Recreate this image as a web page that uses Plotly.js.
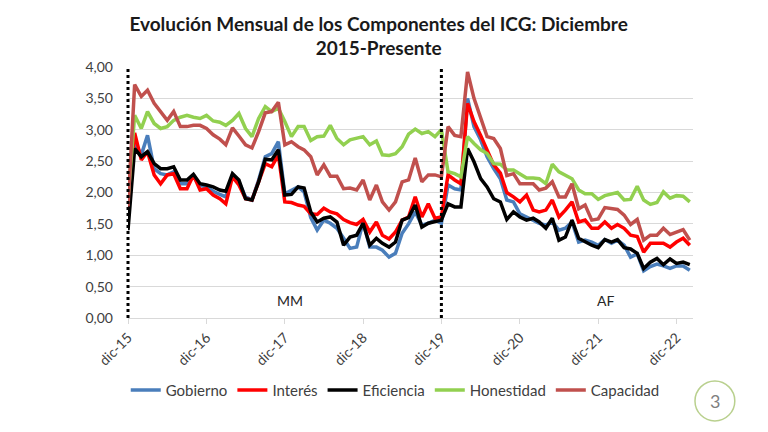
<!DOCTYPE html>
<html><head><meta charset="utf-8">
<script src="https://cdn.plot.ly/plotly-3.0.1.min.js"></script>
<style>html,body{margin:0;padding:0;background:#fff}#chart{width:768px;height:432px}</style>
</head><body><div id="chart"></div>
<script>
// Monthly categories: Dec-2015 .. Feb-2023 (87 months)
const firstYear = 2015, firstMonth = 12, monthCount = 87;
const months = [];
for (let k = 0; k < monthCount; k++) {
  const m0 = firstMonth - 1 + k;
  const y = firstYear + Math.floor(m0 / 12);
  const m = (m0 % 12) + 1;
  months.push(y + '-' + String(m).padStart(2, '0') + '-01');
}
const tickDates = ['2015-12-01','2016-12-01','2017-12-01','2018-12-01','2019-12-01','2020-12-01','2021-12-01','2022-12-01'];
const tickLabels = ['dic-15','dic-16','dic-17','dic-18','dic-19','dic-20','dic-21','dic-22'];
const yTicks = [0,0.5,1,1.5,2,2.5,3,3.5,4];

const gobierno = [1.80,2.80,2.60,2.91,2.38,2.30,2.28,2.33,2.14,2.14,2.25,2.11,2.09,2.02,1.97,1.93,2.28,2.17,1.93,1.88,2.20,2.57,2.62,2.81,1.98,2.04,2.09,2.01,1.60,1.40,1.56,1.51,1.43,1.27,1.11,1.13,1.53,1.13,1.13,1.08,0.97,1.03,1.35,1.50,1.69,1.48,1.51,1.56,1.51,2.12,2.06,2.04,3.50,3.05,2.84,2.57,2.38,2.22,1.88,1.85,1.66,1.61,1.56,1.51,1.48,1.53,1.40,1.43,1.53,1.21,1.24,1.21,1.16,1.25,1.19,1.24,1.16,0.97,1.02,0.75,0.82,0.86,0.83,0.79,0.83,0.83,0.76];
const interes = [1.75,2.95,2.52,2.65,2.28,2.14,2.28,2.30,2.06,2.06,2.28,2.04,2.06,1.96,1.90,1.82,2.25,2.12,1.90,1.88,2.17,2.46,2.41,2.60,1.85,1.84,1.80,1.78,1.66,1.65,1.75,1.69,1.66,1.57,1.52,1.49,1.57,1.37,1.53,1.32,1.26,1.37,1.56,1.61,1.93,1.61,1.82,1.59,1.61,2.28,2.20,2.14,3.42,3.13,2.91,2.68,2.44,2.31,2.00,1.93,1.85,1.96,1.72,1.69,1.72,1.88,1.61,1.72,1.85,1.53,1.56,1.43,1.43,1.53,1.43,1.49,1.43,1.32,1.30,1.05,1.19,1.19,1.19,1.13,1.21,1.27,1.16];
const eficiencia = [1.40,2.70,2.57,2.65,2.46,2.38,2.38,2.41,2.20,2.20,2.29,2.14,2.12,2.09,2.04,2.02,2.30,2.20,1.90,1.88,2.17,2.53,2.52,2.68,1.96,1.97,2.09,2.07,1.69,1.53,1.59,1.61,1.53,1.16,1.29,1.32,1.51,1.16,1.27,1.19,1.13,1.21,1.56,1.60,1.80,1.45,1.51,1.53,1.56,1.82,1.77,1.77,2.70,2.49,2.22,2.09,1.90,1.85,1.57,1.69,1.61,1.56,1.59,1.53,1.43,1.59,1.24,1.29,1.56,1.27,1.21,1.16,1.12,1.25,1.21,1.25,1.12,1.10,1.03,0.79,0.89,0.95,0.85,0.94,0.87,0.89,0.85];
const honestidad = [1.90,3.23,3.02,3.29,3.10,3.02,3.05,3.15,3.20,3.23,3.20,3.18,3.23,3.14,3.12,3.07,3.15,3.26,3.02,2.89,3.18,3.37,3.29,3.34,3.13,2.89,3.05,3.05,2.83,2.89,2.90,3.07,2.86,2.76,2.84,2.87,2.89,2.76,2.82,2.60,2.59,2.62,2.73,2.93,3.01,2.94,2.97,2.89,3.00,2.33,2.30,2.25,2.89,2.78,2.68,2.62,2.46,2.45,2.36,2.36,2.30,2.23,2.23,2.22,2.14,2.45,2.33,2.28,2.22,2.04,1.98,1.98,1.89,1.95,1.97,2.00,1.88,1.89,2.10,1.88,1.81,1.84,2.01,1.91,1.95,1.94,1.85];
const capacidad = [1.78,3.72,3.53,3.63,3.42,3.29,3.15,3.29,3.05,3.05,3.07,3.07,3.02,2.92,2.85,2.76,3.03,2.90,2.76,2.71,2.97,3.27,3.29,3.44,2.76,2.81,2.73,2.68,2.57,2.28,2.44,2.26,2.26,2.06,2.07,2.04,2.20,1.88,2.12,1.85,1.72,1.85,2.17,2.20,2.55,2.17,2.28,2.28,2.25,3.05,2.91,2.89,3.92,3.50,3.21,2.89,2.86,2.70,2.27,2.30,2.14,2.14,2.14,2.04,2.07,2.17,1.93,1.93,2.14,1.74,1.80,1.56,1.58,1.76,1.74,1.73,1.64,1.49,1.57,1.24,1.32,1.32,1.43,1.33,1.37,1.41,1.24];

const seriesNames = ['Gobierno','Interés','Eficiencia','Honestidad','Capacidad'];
const seriesValues = [gobierno, interes, eficiencia, honestidad, capacidad];
const seriesColors = ['#4A7EBB','#FF0000','#000000','#92D050','#C0504D'];

const FONT = 'Lato, Carlito, "Open Sans", sans-serif';
const traces = seriesNames.map((n, k) => ({
  type: 'scatter', mode: 'lines', name: n,
  x: months, y: seriesValues[k],
  line: {color: seriesColors[k], width: 3.5}
}));

const layout = {
  width: 768, height: 432,
  paper_bgcolor: '#ffffff', plot_bgcolor: '#ffffff',
  separators: ',.',
  font: {family: FONT, size: 14, color: '#404040'},
  margin: {l: 128, r: 75, t: 67, b: 114},
  title: {
    text: 'Evolución Mensual de los Componentes del ICG: Diciembre<br>2015-Presente',
    font: {family: FONT, size: 19, color: '#1a1a1a', weight: 'bold'},
    x: 0.493, xref: 'container', xanchor: 'center',
    y: 0.929, yref: 'container', yanchor: 'top'
  },
  xaxis: {
    type: 'date',
    range: ['2015-12-01', '2023-02-16'],
    tickvals: tickDates, ticktext: tickLabels,
    tickangle: -45,
    showgrid: false, zeroline: false,
    showline: true, linecolor: '#D9D9D9', linewidth: 1,
    ticks: 'outside', ticklen: 5, tickcolor: '#D9D9D9',
    tickfont: {family: FONT, size: 14, color: '#404040'}
  },
  yaxis: {
    range: [0, 4],
    tickvals: yTicks, tickformat: '.2f',
    showgrid: true, gridcolor: '#D9D9D9', gridwidth: 1,
    zeroline: false, showline: false,
    ticks: '', ticklabelstandoff: 14,
    tickfont: {family: FONT, size: 14, color: '#404040'}
  },
  showlegend: true,
  legend: {
    orientation: 'h', x: 0.473, xanchor: 'center', y: -0.222, yanchor: 'top',
    font: {family: FONT, size: 15, color: '#404040'},
    bgcolor: 'rgba(0,0,0,0)'
  },
  shapes: [
    {type: 'line', xref: 'paper', yref: 'paper', x0: 0, x1: 0, y0: 0, y1: 1,
     line: {color: '#000000', width: 3, dash: 'dot'}},
    {type: 'line', xref: 'x', yref: 'paper', x0: '2019-12-01', x1: '2019-12-01', y0: 0, y1: 1,
     line: {color: '#000000', width: 3, dash: 'dot'}},
    {type: 'circle', xref: 'paper', yref: 'paper',
     x0: 1.0035, x1: 1.074, y0: -0.410, y1: -0.251,
     line: {color: '#B9D08E', width: 1.5}, fillcolor: 'rgba(0,0,0,0)'}
  ],
  annotations: [
    {text: 'MM', xref: 'paper', yref: 'paper', x: 0.287, y: 0.068, xanchor: 'center', yanchor: 'middle', showarrow: false,
     font: {family: FONT, size: 14, color: '#262626'}},
    {text: 'AF', xref: 'paper', yref: 'paper', x: 0.846, y: 0.068, xanchor: 'center', yanchor: 'middle', showarrow: false,
     font: {family: FONT, size: 14, color: '#262626'}},
    {text: '3', xref: 'paper', yref: 'paper', x: 1.039, y: -0.331, xanchor: 'center', yanchor: 'middle', showarrow: false,
     font: {family: FONT, size: 18, color: '#7F7F7F'}}
  ]
};

Plotly.newPlot('chart', traces, layout, {displayModeBar: false, responsive: false});
</script></body></html>
